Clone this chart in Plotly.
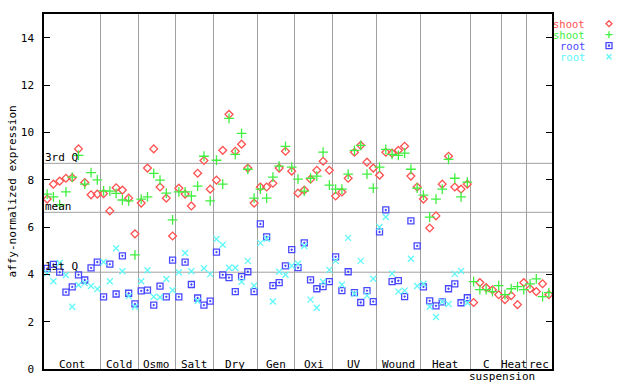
import plotly.graph_objects as go

# ---------------- data ----------------
group_labels = ["Cont", "Cold", "Osmo", "Salt", "Dry", "Gen", "Oxi", "UV",
                "Wound", "Heat", "C", "Heat", "rec"]
group_sizes = [9, 6, 6, 6, 7, 6, 6, 7, 7, 8, 5, 4, 4]

shoot_red = [7.18, 7.81, 7.94, 8.06, 8.08, 9.30, 7.88, 7.36, 7.39,
             7.41, 6.68, 7.66, 7.56, 7.22, 5.71,
             7.01, 8.49, 9.30, 7.69, 7.22, 5.62,
             7.64, 7.39, 6.89, 8.27, 8.81, 7.60,
             7.98, 9.24, 10.76, 9.20, 9.50, 8.49, 7.01,
             7.69, 7.69, 7.85, 8.49, 9.20, 8.36,
             7.43, 7.56, 8.02, 8.40, 8.78, 8.40,
             7.31, 7.48, 8.06, 9.16, 9.45, 8.74, 8.49,
             8.19, 9.16, 9.12, 9.24, 9.41, 8.15, 7.69,
             7.18, 5.96, 6.47, 7.81, 8.99, 7.69, 7.60, 7.81,
             2.81, 3.65, 3.44, 3.35, 3.14,
             2.93, 3.10, 2.72, 3.65,
             3.39, 3.27, 3.60, 3.14]

shoot_green = [7.39, 7.27, 6.94, 7.48, 8.11, 9.03, 7.81, 8.30, 7.99,
               7.53, 7.52, 7.42, 7.14, 7.10, 4.82,
               7.18, 7.27, 8.27, 7.98, 7.43, 6.30,
               7.48, 7.48, 7.31, 7.73, 8.99, 7.10,
               8.82, 7.81, 10.59, 9.07, 9.96, 8.44, 7.22,
               7.60, 7.22, 8.11, 8.57, 9.41, 8.53,
               8.02, 7.52, 8.06, 8.15, 9.16, 7.77,
               7.60, 7.60, 8.23, 9.24, 9.45, 8.23, 7.64,
               8.53, 9.28, 9.07, 9.03, 9.12, 8.44, 7.64,
               7.35, 6.42, 7.18, 7.60, 8.86, 8.06, 7.27, 7.90,
               3.69, 3.35, 3.35, 3.27, 3.52,
               3.14, 3.39, 3.48, 3.35,
               3.60, 3.81, 3.06, 3.23]

root_blue = [4.25, 4.42, 4.09, 3.25, 3.47, 3.98, 3.76, 4.27, 4.52,
             3.05, 4.43, 3.17, 4.78, 3.20, 2.75,
             3.30, 3.33, 2.70, 3.50, 3.05, 4.60,
             3.05, 4.52, 3.57, 3.00, 2.70, 2.87,
             4.94, 3.98, 3.86, 3.27, 3.90, 4.11, 3.27,
             6.13, 5.58, 3.52, 3.65, 4.36, 5.04,
             4.28, 5.33, 3.77, 3.39, 3.48, 3.69,
             4.74, 3.31, 4.11, 3.23, 2.81, 3.31, 2.85,
             5.79, 6.72, 3.69, 3.73, 3.06, 6.26, 5.20,
             3.47, 2.88, 2.67, 2.84, 3.39, 3.60, 2.80, 3.01]

root_cyan = [4.05, 3.71, 4.48, 3.97, 2.63, 3.55, 3.63, 3.51, 3.38,
             4.52, 3.71, 5.10, 4.13, 3.08, 2.63,
             3.71, 4.17, 3.05, 3.03, 3.80, 3.33,
             4.09, 4.90, 4.13, 2.87, 4.26, 4.01,
             5.49, 5.25, 4.28, 4.28, 3.69, 4.57, 3.52,
             5.33, 5.50, 2.85, 4.11, 3.98, 4.36,
             4.45, 5.20, 2.93, 2.59, 3.69, 4.19,
             4.57, 3.56, 5.54, 3.18, 4.57, 3.10, 3.81,
             6.00, 6.42, 4.03, 3.27, 3.31, 4.66, 3.51,
             3.60, 2.63, 2.20, 2.84, 2.75, 4.02, 4.14, 2.80]

stat_names = ["3rd Q", "mean", "1st Q"]
stat_values = [8.69, 6.62, 4.09]

y_ticks = [0, 2, 4, 6, 8, 10, 12, 14]

# ---------------- layout helpers ----------------
W, H = 640, 384
ML, MR, MT, MB = 44, 88, 14, 15
PW, PH = W - ML - MR, H - MT - MB
n_total = sum(group_sizes)
Y_MAX = 15
px_x = PW / n_total
px_y = PH / Y_MAX

def dy(py):
    return (H - MB - py) / px_y

def paper_x(px):
    return (px - ML) / PW

def paper_y(py):
    return (H - MB - py) / PH

FONT = "DejaVu Sans Mono"
RED, GREEN, BLUE, CYAN = "#ff5050", "#40f040", "#4848ff", "#60f8f8"
GRID = "#a0a0a0"

xs_all = [i + 0.5 for i in range(n_total)]

fig = go.Figure()

series = [
    ("shoot", shoot_red, RED, "diamond-open", 6, 1.3),
    ("shoot", shoot_green, GREEN, "cross-thin-open", 7, 1.3),
    ("root", root_blue, BLUE, "square-open-dot", 6, 1.3),
    ("root", root_cyan, CYAN, "x-thin-open", 6, 1.3),
]
for name, vals, col, sym, sz, lw in series:
    fig.add_trace(go.Scatter(
        x=xs_all[:len(vals)], y=vals, mode="markers", name=name,
        marker=dict(symbol=sym, size=sz, color=col, line=dict(color=col, width=lw)),
        showlegend=False, hoverinfo="skip"))

# custom legend: text then marker glyph, right of the plot (pixel-sized shapes)
legend_paths = [
    "M -3,0 L 0,3 L 3,0 L 0,-3 Z",
    "M -3.5,0 L 3.5,0 M 0,-3.5 L 0,3.5",
    "M -3,-3 L 3,-3 L 3,3 L -3,3 Z M -0.5,-0.5 L 0.5,-0.5 L 0.5,0.5 L -0.5,0.5 Z",
    "M -2.5,-2.5 L 2.5,2.5 M -2.5,2.5 L 2.5,-2.5",
]
leg_rows = [23.7, 34.7, 45.7, 56.7]
for (name, vals, col, sym, sz, lw), ry, pth in zip(series, leg_rows, legend_paths):
    fig.add_shape(type="path", xref="paper", yref="paper",
                  xsizemode="pixel", ysizemode="pixel",
                  xanchor=paper_x(609), yanchor=paper_y(ry),
                  path=pth, line=dict(color=col, width=1.3))
    fig.add_annotation(x=paper_x(586), y=paper_y(ry), xref="paper", yref="paper",
                       text=name, showarrow=False, xanchor="right", yanchor="middle",
                       borderpad=0,
                       font=dict(family=FONT, size=10.5, color=col))

# group boundaries
bounds = []
acc = 0
for s in group_sizes[:-1]:
    acc += s
    bounds.append(acc)

# stat lines
for nm, v in zip(stat_names, stat_values):
    fig.add_shape(type="line", xref="x", yref="y", x0=0, x1=n_total, y0=v, y1=v,
                  line=dict(color=GRID, width=1), layer="below")
    fig.add_annotation(x=0, y=v, xref="x", yref="y", text=nm, showarrow=False,
                       xanchor="left", yanchor="bottom", xshift=-1, yshift=-3,
                       font=dict(family=FONT, size=11, color="black"))

# group labels
start = 0
for lab, s in zip(group_labels, group_sizes):
    fig.add_annotation(x=start + s / 2, y=dy(364.3), xref="x", yref="y", text=lab,
                       showarrow=False, xanchor="center", yanchor="middle",
                       borderpad=0,
                       font=dict(family=FONT, size=11, color="black"))
    start += s
# second line of "C suspension"
c_idx = group_labels.index("C")
fig.add_annotation(x=sum(group_sizes[:c_idx + 1]) / n_total, y=paper_y(376.7),
                   xref="paper", yref="paper",
                   text="suspension", showarrow=False, xanchor="center", yanchor="middle",
                   borderpad=0,
                   font=dict(family=FONT, size=11, color="black"))

# y axis title
fig.add_annotation(x=paper_x(12), y=0.5, xref="paper", yref="paper",
                   text="affy-normalized expression", textangle=-90, showarrow=False,
                   xanchor="center", yanchor="middle",
                   font=dict(family=FONT, size=11, color="black"))

fig.update_layout(
    width=W, height=H,
    margin=dict(l=ML, r=MR, t=MT, b=MB, pad=0, autoexpand=False),
    paper_bgcolor="white", plot_bgcolor="white",
    showlegend=False,
    xaxis=dict(range=[0, n_total], tickvals=bounds, showticklabels=False, ticks="",
               showgrid=True, gridcolor=GRID, gridwidth=1, zeroline=False,
               showline=True, linecolor="black", linewidth=1.5, mirror=True,
               fixedrange=True, automargin=False),
    yaxis=dict(range=[0, Y_MAX], tickvals=y_ticks, ticks="inside", ticklen=6,
               tickcolor="black", tickwidth=1, showgrid=False, zeroline=False,
               showline=True, linecolor="black", linewidth=1.5, mirror="ticks",
               ticklabelstandoff=6, automargin=False,
               tickfont=dict(family=FONT, size=11, color="black"), fixedrange=True),
)

fig.write_html("out.html", config={"displayModeBar": False},
               post_script="document.body.style.margin='0';document.body.style.padding='0';")
